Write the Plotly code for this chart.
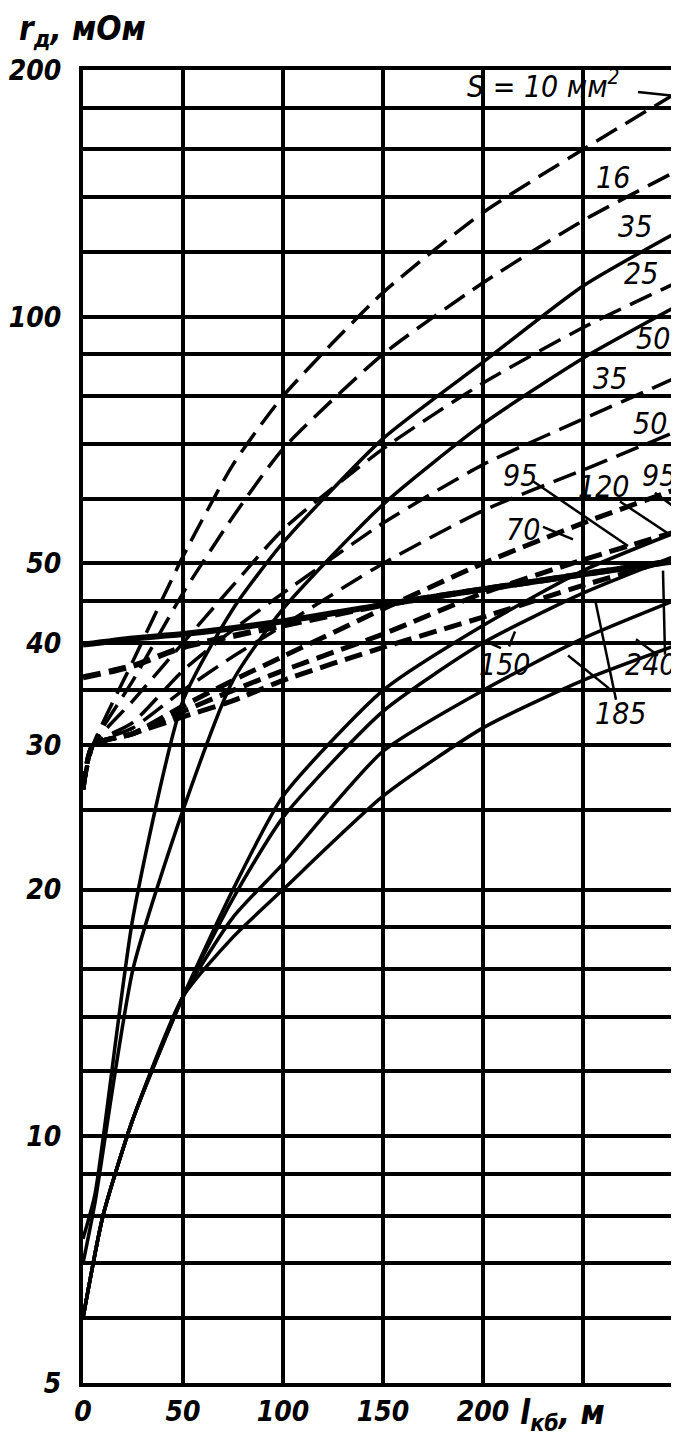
import numpy as np
import plotly.graph_objects as go

# ---------------- data ----------------
# dashed family
xd = [0, 5, 25, 50, 75, 100, 150, 200, 250, 300]
xd10 = [0, 5, 25, 50, 75, 100, 150, 200, 250, 296]
d10 = [26.5, 30, 38, 51, 66, 80, 107, 134, 160, 187]
d16 = [26.5, 30, 36, 46, 57, 69, 90, 110, 131, 152]
d25 = [26.5, 30, 34, 40, 47, 55, 69, 83, 97, 111]
d35 = [26.5, 30, 32, 37, 41.5, 46, 56, 66, 75, 85]
d50 = [26.5, 30, 31.5, 35, 38.5, 42, 50, 58, 65, 73]
d70 = [26.5, 30, 31, 33.5, 36, 38.5, 44, 50, 56, 62]
d95 = [26.5, 30, 31, 33, 35, 37, 41, 46, 50.5, 55]
d120 = [26.5, 30, 31, 32.5, 34, 36, 39.5, 43, 47, 51]
# thick near-flat lines
xt = [0, 25, 50, 100, 150, 200, 250, 300]
t36 = [36.3, 37.5, 39.5, 42, 44.5, 46.5, 48.5, 50.5]
t40 = [39.8, 40.5, 41, 42.5, 44.5, 46.5, 48.5, 50.5]
# solid family (upper)
xs = [0, 6, 25, 50, 75, 100, 150, 200, 250, 300]
s35 = [7.5, 8.5, 18.5, 34, 44, 53, 71, 88, 109, 128]
s50 = [7, 8.3, 16, 25, 36, 44, 59, 74, 89, 104]
# solid family (lower bundle)
xl = [0, 10, 25, 50, 75, 100, 150, 200, 250, 300]
l95 = [6, 8, 10.5, 14.8, 20, 26, 35, 42, 49, 55]
l120 = [6, 8, 10.5, 14.8, 19.5, 24.5, 33, 40, 46, 51.5]
l185 = [6, 8, 10.5, 14.8, 18.5, 21.5, 29.5, 35, 40.5, 45.5]
l240 = [6, 8, 10.5, 14.8, 17.5, 20, 26, 31.5, 36, 40]

# curve labels: text, x, y
lab_text = ["S = 10 мм<sup>2</sup>", "16", "35", "25", "50", "35", "50",
            "95", "120", "95", "70", "150", "240", "185"]
lab_x = [230, 265, 276, 279, 285, 263.5, 283.5, 218.5, 260.5, 288, 220, 211, 284, 269]
lab_y = [192, 148, 129, 113, 94, 84, 74, 64, 62, 64, 55, 37.6, 37.6, 32.8]

# leader lines: (x0, y0, x1, y1)
leaders = [
    (277.5, 188, 295, 186),
    (225, 63, 272.5, 52.5),
    (268.5, 59.5, 292, 54.5),
    (286, 61, 298, 58),
    (230, 55.4, 245, 53.5),
    (209, 39.4, 201, 40.2),
    (213, 39.6, 216, 41.3),
    (266.5, 34.1, 256, 45.2),
    (263, 35.2, 242.5, 38.6),
    (291, 38.7, 290, 49),
    (287.5, 38.6, 276.5, 40.4),
]

x_ticks = [0, 50, 100, 150, 200, 250, 300]
x_ticktext = ["0", "50", "100", "150", "200", " ", " "]
y_ticks = [5, 6, 7, 8, 9, 10, 12, 14, 16, 18, 20, 25, 30, 35, 40, 45, 50,
           60, 70, 80, 90, 100, 120, 140, 160, 180, 200]
y_labeled = [5, 10, 20, 30, 40, 50, 100, 200]

# ---------------- figure ----------------
FONT = "Liberation Sans Narrow, DejaVu Sans Condensed, Arial Narrow, DejaVu Sans, sans-serif"
fig = go.Figure()


def add(x, y, width=3.5, dash="solid"):
    fig.add_trace(go.Scatter(x=x, y=y, mode="lines",
                             line=dict(color="black", width=width, dash=dash,
                                       shape="spline", smoothing=0.6),
                             showlegend=False, hoverinfo="skip"))


dash_thin = "24px,10px"
dash_thick = "18px,8px"
add(xd10, d10, 3.5, dash_thin)
for yy in (d16, d25, d35, d50):
    add(xd, yy, 3.5, dash_thin)
for yy in (d70, d95, d120):
    add(xd, yy, 5, dash_thick)
add(xt, t36, 6, dash_thick)
add(xt, t40, 6)
add(xs, s35, 3.5)
add(xs, s50, 3.5)
for yy in (l95, l120, l185, l240):
    add(xl, yy, 3.5)

for (x0, y0, x1, y1) in leaders:
    fig.add_trace(go.Scatter(x=[x0, x1], y=[y0, y1], mode="lines",
                             line=dict(color="black", width=2.5),
                             showlegend=False, hoverinfo="skip"))

for t, xx, yy in zip(lab_text, lab_x, lab_y):
    fig.add_annotation(x=xx, y=np.log10(yy), text=t, showarrow=False,
                       font=dict(family=FONT, size=30, color="black", style="italic"),
                       xanchor="center", yanchor="middle")

# axis titles
fig.add_annotation(xref="paper", yref="paper", x=-0.11, y=1.03,
                   text="r<sub>д</sub>, мОм", showarrow=False,
                   xanchor="left", yanchor="middle",
                   font=dict(family=FONT, size=33, color="black",
                             style="italic", weight="bold"))
fig.add_annotation(xref="paper", yref="paper", x=0.725, y=-0.024,
                   text="l<sub>кб</sub>, м", showarrow=False,
                   xanchor="left", yanchor="middle",
                   font=dict(family=FONT, size=33, color="black",
                             style="italic", weight="bold"))

tickfont = dict(family=FONT, size=28, color="black", style="italic", weight="bold")
fig.update_layout(
    width=679, height=1440,
    margin=dict(l=75, r=4, t=62, b=65, autoexpand=False),
    paper_bgcolor="white", plot_bgcolor="white",
    xaxis=dict(range=[0, 300], tickvals=x_ticks, ticktext=x_ticktext,
               showgrid=True, gridcolor="black", gridwidth=4,
               showline=True, linecolor="black", linewidth=4, mirror=True,
               zeroline=False, ticks="", tickfont=tickfont, ticklabelstandoff=0,
               automargin=False),
    yaxis=dict(type="log", range=[np.log10(5), np.log10(200)],
               tickvals=y_ticks,
               ticktext=[str(v) if v in y_labeled else " " for v in y_ticks],
               showgrid=True, gridcolor="black", gridwidth=4,
               showline=True, linecolor="black", linewidth=4, mirror=True,
               zeroline=False, ticks="", tickfont=tickfont, ticklabelstandoff=12,
               automargin=False),
)

fig.write_html("out.html")
